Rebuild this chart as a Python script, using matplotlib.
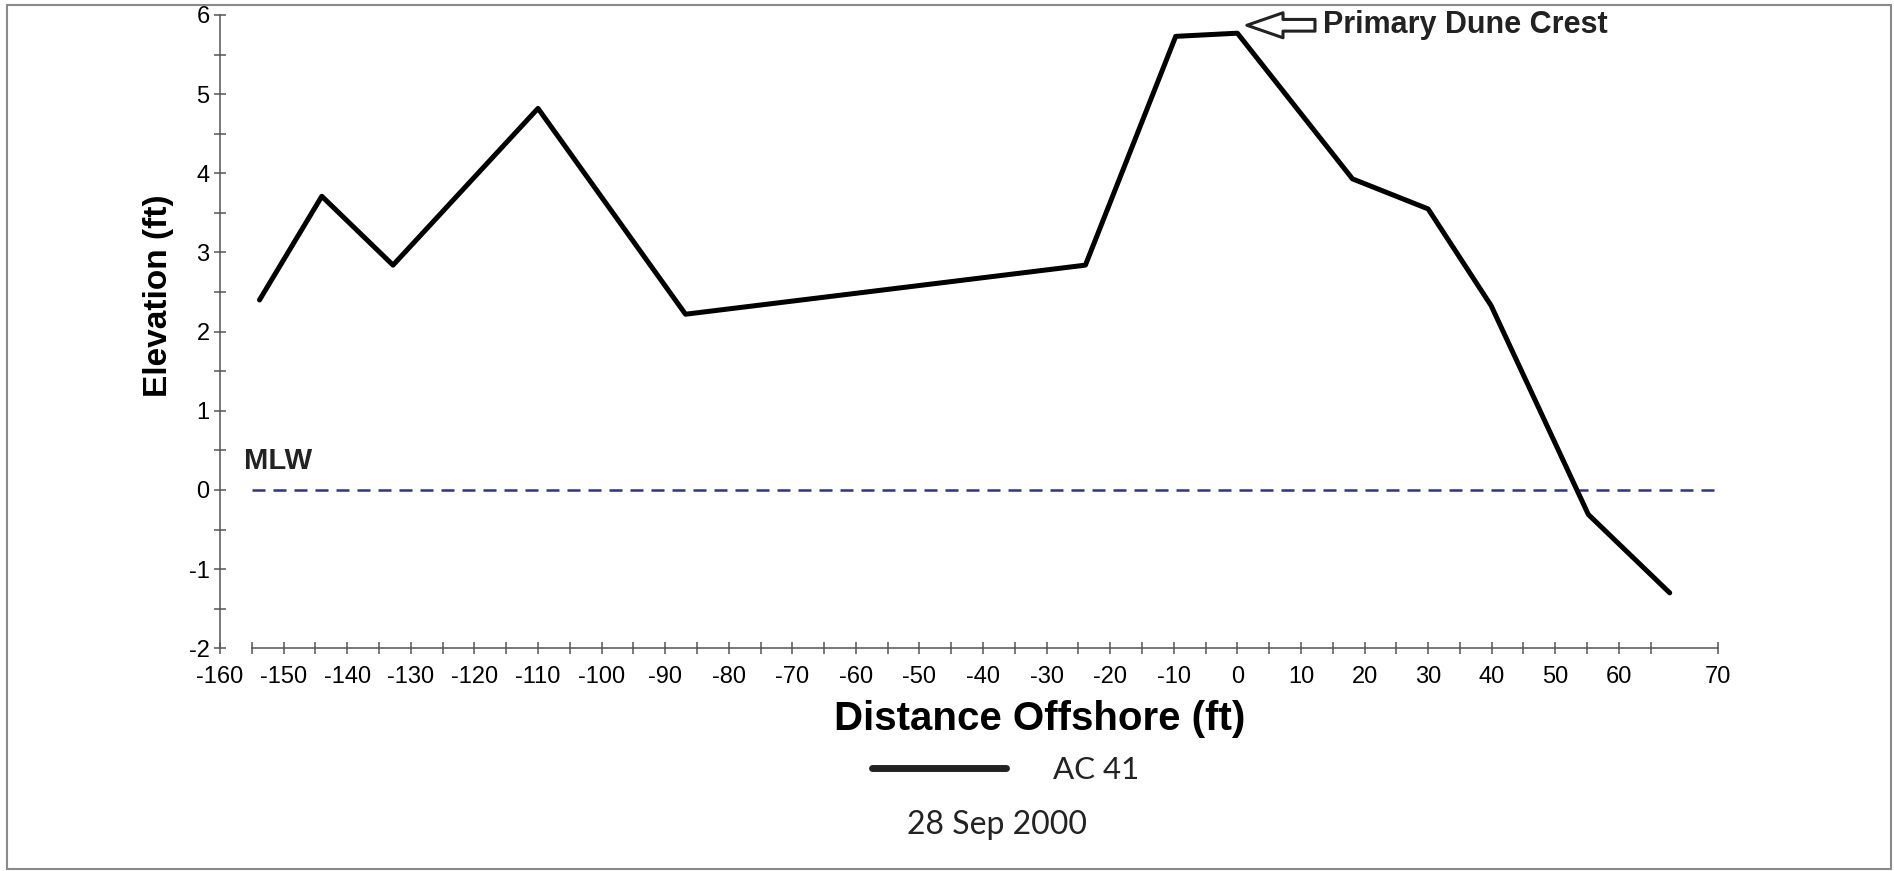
import matplotlib.pyplot as plt
from matplotlib.patches import Rectangle

plt.rcParams["axes.unicode_minus"] = False

# beach profile AC 41 (28 Sep 2000)
distance = [-153.8, -144.0, -132.8, -110.0, -86.8, -23.9, -9.7, 0.0, 18.1, 30.0, 39.9, 55.2, 68.0]
elevation = [2.40, 3.71, 2.84, 4.82, 2.22, 2.84, 5.73, 5.77, 3.93, 3.55, 2.33, -0.31, -1.30]
profile_name = "AC 41"
survey_date = "28 Sep 2000"
mlw_level = 0.0

# axis ticks (the last label "70" sits at the very end of the axis in the original)
x_tick_pos = [-160, -150, -140, -130, -120, -110, -100, -90, -80, -70, -60,
              -50, -40, -30, -20, -10, 0, 10, 20, 30, 40, 50, 60, 75.6]
x_tick_labels = ["-160", "-150", "-140", "-130", "-120", "-110", "-100", "-90", "-80",
                 "-70", "-60", "-50", "-40", "-30", "-20", "-10", "0", "10", "20",
                 "30", "40", "50", "60", "70"]
x_minor_pos = [-155, -145, -135, -125, -115, -105, -95, -85, -75, -65, -55, -45,
               -35, -25, -15, -5, 5, 15, 25, 35, 45, 55, 65]
y_ticks = [-2, -1, 0, 1, 2, 3, 4, 5, 6]
y_minor = [-1.5, -0.5, 0.5, 1.5, 2.5, 3.5, 4.5, 5.5]

x_min, x_max = -160, 75.6
x_axis_start = -155
y_min, y_max = -2, 6

axis_gray = "#555555"

fig = plt.figure(figsize=(18.94, 8.71), dpi=100)
ax = fig.add_axes([0.1162, 0.2557, 0.7909, 0.7271])

line, = ax.plot(distance, elevation, color="black", lw=3.6,
                solid_capstyle="round", solid_joinstyle="round",
                label=profile_name, zorder=3)

# mean low water
ax.hlines(mlw_level, x_axis_start, x_max, colors="#2e3192", lw=1.8,
          linestyles=(0, (5.2, 3.2)), zorder=2)
ax.text(x_axis_start - 1.2, mlw_level + 0.27, "MLW", fontsize=21,
        fontweight="bold", family="Liberation Sans", color="#222222",
        ha="left", va="baseline")

# dune crest marker
crest = elevation.index(max(elevation))
ax.annotate("Primary Dune Crest", xy=(distance[crest] + 1.5, elevation[crest] + 0.1),
            xytext=(55, 0), textcoords="offset points", ha="left", va="center",
            fontsize=22, fontweight="bold", family="Liberation Sans", color="#222222",
            annotation_clip=False,
            arrowprops=dict(arrowstyle="simple,head_length=1.3,head_width=0.9,tail_width=0.42",
                            fc="white", ec="#222222", lw=2.2, shrinkA=4, shrinkB=0,
                            mutation_scale=20))

ax.set_xlim(x_min, x_max)
ax.set_ylim(y_min, y_max)

for s in ["top", "right"]:
    ax.spines[s].set_visible(False)
ax.spines["bottom"].set_bounds(x_axis_start, x_max)
for s in ["left", "bottom"]:
    ax.spines[s].set_color(axis_gray)
    ax.spines[s].set_linewidth(1.1)

ax.set_xticks(x_tick_pos)
ax.set_xticklabels(x_tick_labels)
ax.set_xticks(x_minor_pos, minor=True)
ax.set_yticks(y_ticks)
ax.set_yticks(y_minor, minor=True)

ax.tick_params(axis="x", which="both", direction="inout", length=8, width=1.1,
               color=axis_gray, labelsize=17, pad=9)
ax.tick_params(axis="y", which="both", direction="inout", length=9, width=1.1,
               color=axis_gray, labelsize=17, pad=3)
for lab in ax.get_xticklabels() + ax.get_yticklabels():
    lab.set_family("Liberation Sans")

ax.set_xlabel("Distance Offshore (ft)", fontsize=29, fontweight="bold",
              family="Liberation Sans")
ax.xaxis.set_label_coords(0.547, -0.082)
ax.set_ylabel("Elevation (ft)", fontsize=24, fontweight="bold",
              family="Liberation Sans")
ax.yaxis.set_label_coords(-0.031, 0.556)

leg = fig.legend(handles=[line], loc="center", bbox_to_anchor=(0.531, 0.116),
                 frameon=False, handlelength=4.3, handletextpad=1.5,
                 prop={"family": "Lato", "size": 22.5})
leg.get_lines()[0].set_linewidth(5)
leg.get_lines()[0].set_color("#222222")
for t in leg.get_texts():
    t.set_color("#222222")

fig.text(0.5265, 0.053, survey_date, ha="center", va="center",
         fontsize=23, family="Lato", color="#222222")

# outer frame
fig.add_artist(Rectangle((7 / 1894, 2 / 871), 1884 / 1894, 864 / 871,
                         transform=fig.transFigure, fill=False,
                         ec="#8a8a8a", lw=1.5))

fig.savefig("out.png", dpi=100)
